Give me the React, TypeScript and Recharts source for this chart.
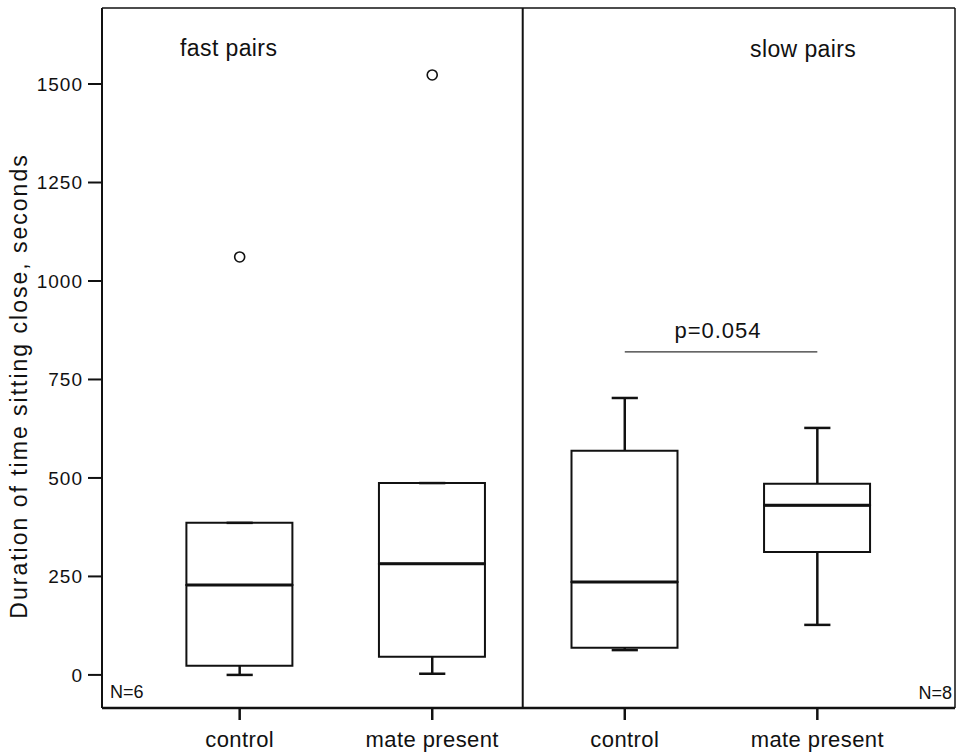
import { ComposedChart, Bar, Scatter, XAxis, YAxis, ReferenceLine, Customized } from 'recharts';

// group positions along the x axis and their tick labels
const positions = [1, 2, 3, 4];
const groupLabels = ['control', 'mate present', 'control', 'mate present'];

// box plot summaries (seconds)
const whiskerLow = [0, 3, 63, 127];
const quartile1 = [23, 46, 69, 312];
const medians = [228, 282, 236, 431];
const quartile3 = [386, 487, 569, 485];
const whiskerHigh = [386, 487, 703, 627];

// outliers
const outlierX = [1, 2];
const outlierY = [1061, 1523];

// significance bar between the two slow-pair groups
const pBarX = [3, 4];
const pBarY = 820;
const pLabel = 'p=0.054';

const yTicks = [0, 250, 500, 750, 1000, 1250, 1500];
const Y_MIN = -84;
const Y_MAX = 1693;
const X_MIN = 0.285;
const X_MAX = 4.715;
const PANEL_SPLIT = 2.47;
const CAP_HALF = 0.068;
const BOX_HALF = 0.274;

const FONT = '"Liberation Sans", Arial, sans-serif';
const INK = '#111';

const boxData = positions.map((x, i) => ({
  x,
  base: quartile1[i],
  lowerBox: medians[i] - quartile1[i],
  upperBox: quartile3[i] - medians[i],
}));

const outliers = outlierX.map((x, i) => ({ x, y: outlierY[i] }));

const Hollow = (props: any) => (
  <circle cx={props.cx} cy={props.cy} r={5} fill="#fff" stroke={INK} strokeWidth={1.6} />
);

// panel titles, sample sizes, axis title, p-value
const Annotations = () => (
  <g fontFamily={FONT} fill={INK}>
    <text x={180} y={56} fontSize={23} letterSpacing={0.4}>fast pairs</text>
    <text x={750} y={57} fontSize={23} letterSpacing={0.4}>slow pairs</text>
    <text x={110} y={698} fontSize={18}>N=6</text>
    <text x={952} y={699} fontSize={18} textAnchor="end">N=8</text>
    <text x={718} y={338} fontSize={22} letterSpacing={1} textAnchor="middle">{pLabel}</text>
    <text
      x={0}
      y={0}
      fontSize={23}
      letterSpacing={2}
      textAnchor="middle"
      transform="translate(27, 386) rotate(-90)"
    >
      Duration of time sitting close, seconds
    </text>
  </g>
);

export default function App() {
  return (
    <div style={{ width: 957, height: 755, background: '#fff' }}>
      <style>{'body{margin:0}'}</style>
      <ComposedChart
        width={957}
        height={755}
        data={boxData}
        margin={{ top: 8, right: 2, bottom: 0, left: 0 }}
      >
        <XAxis
          dataKey="x"
          type="number"
          domain={[X_MIN, X_MAX]}
          allowDataOverflow
          ticks={positions}
          interval={0}
          tickFormatter={(v: number) => groupLabels[positions.indexOf(v)]}
          height={47}
          tickSize={12}
          tickMargin={11}
          axisLine={{ stroke: INK, strokeWidth: 2.5 }}
          tickLine={{ stroke: INK, strokeWidth: 2.5 }}
          tick={{ fontSize: 22, fill: INK, fontFamily: FONT, letterSpacing: 0.4 }}
        />
        <YAxis
          type="number"
          domain={[Y_MIN, Y_MAX]}
          allowDataOverflow
          ticks={yTicks}
          interval={0}
          width={102}
          tickSize={14}
          tickMargin={5}
          axisLine={{ stroke: INK, strokeWidth: 2 }}
          tickLine={{ stroke: INK, strokeWidth: 2 }}
          tick={{ fontSize: 19, fill: INK, fontFamily: FONT, letterSpacing: 1 }}
        />

        {/* frame: top and right edges, panel divider */}
        <ReferenceLine y={Y_MAX} stroke={INK} strokeWidth={1.5} />
        <ReferenceLine x={X_MAX} stroke={INK} strokeWidth={1.5} />
        <ReferenceLine x={PANEL_SPLIT} stroke={INK} strokeWidth={2} />

        {/* whiskers and caps */}
        {positions.map((x, i) => (
          <ReferenceLine
            key={`wh-${i}`}
            segment={[{ x, y: quartile3[i] }, { x, y: whiskerHigh[i] }]}
            stroke={INK}
            strokeWidth={2.5}
          />
        ))}
        {positions.map((x, i) => (
          <ReferenceLine
            key={`wl-${i}`}
            segment={[{ x, y: whiskerLow[i] }, { x, y: quartile1[i] }]}
            stroke={INK}
            strokeWidth={2.5}
          />
        ))}
        {positions.map((x, i) => (
          <ReferenceLine
            key={`ch-${i}`}
            segment={[{ x: x - CAP_HALF, y: whiskerHigh[i] }, { x: x + CAP_HALF, y: whiskerHigh[i] }]}
            stroke={INK}
            strokeWidth={2.5}
          />
        ))}
        {positions.map((x, i) => (
          <ReferenceLine
            key={`cl-${i}`}
            segment={[{ x: x - CAP_HALF, y: whiskerLow[i] }, { x: x + CAP_HALF, y: whiskerLow[i] }]}
            stroke={INK}
            strokeWidth={2.5}
          />
        ))}

        {/* boxes: invisible base up to Q1, then Q1-median and median-Q3 */}
        <Bar dataKey="base" stackId="box" barSize={106} fill="none" isAnimationActive={false} />
        <Bar
          dataKey="lowerBox"
          stackId="box"
          barSize={106}
          fill="#fff"
          stroke={INK}
          strokeWidth={2}
          isAnimationActive={false}
        />
        <Bar
          dataKey="upperBox"
          stackId="box"
          barSize={106}
          fill="#fff"
          stroke={INK}
          strokeWidth={2}
          isAnimationActive={false}
        />

        {/* heavier median lines */}
        {positions.map((x, i) => (
          <ReferenceLine
            key={`md-${i}`}
            segment={[{ x: x - BOX_HALF, y: medians[i] }, { x: x + BOX_HALF, y: medians[i] }]}
            stroke={INK}
            strokeWidth={3}
          />
        ))}

        <ReferenceLine
          segment={[{ x: pBarX[0], y: pBarY }, { x: pBarX[1], y: pBarY }]}
          stroke="#333"
          strokeWidth={1.2}
        />

        <Scatter data={outliers} dataKey="y" shape={Hollow} isAnimationActive={false} />

        <Customized component={Annotations} />
      </ComposedChart>
    </div>
  );
}
